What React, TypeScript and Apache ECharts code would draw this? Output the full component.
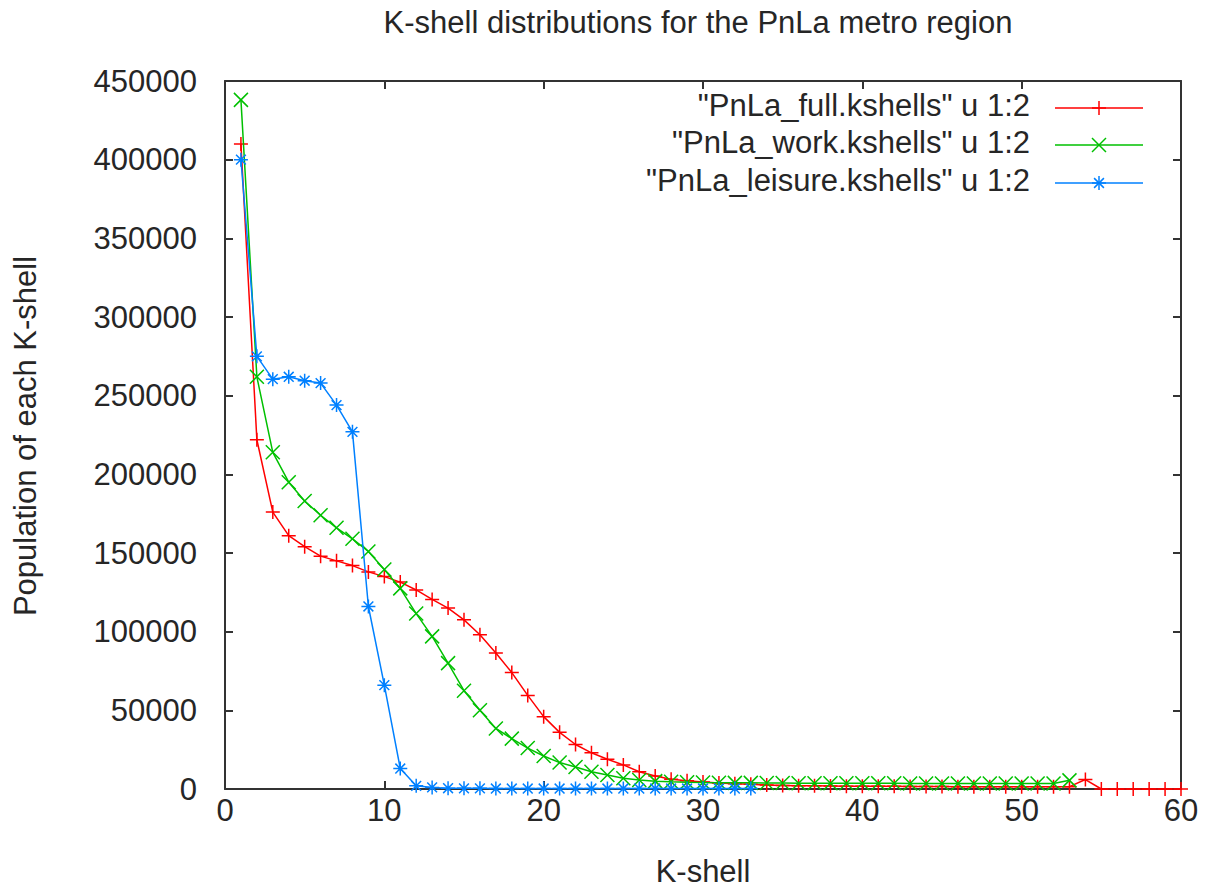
import React, { useEffect, useRef } from "react";
import * as echarts from "echarts";

const titleText = "K-shell distributions for the PnLa metro region";
const xName = "K-shell";
const yName = "Population of each K-shell";
const seriesNames = [
  '"PnLa_full.kshells" u 1:2',
  '"PnLa_work.kshells" u 1:2',
  '"PnLa_leisure.kshells" u 1:2',
];
const seriesColors = ["#ff0000", "#00c000", "#0080ff"];

// K-shell index starts at 1
const fullCounts = [
  410000, 222000, 176000, 161000, 154000, 148000, 145000, 142000, 138000, 135000,
  131500, 126500, 120500, 115000, 107500, 98000, 86500, 74000, 59500, 46000,
  36000, 28300, 23000, 18900, 15300, 11000, 8300, 6200, 5200, 4400,
  3800, 3300, 3000, 2500, 2300, 2100, 2000, 1900, 1800, 1800,
  1700, 1700, 1600, 1600, 1600, 1500, 1500, 1500, 1500, 1400,
  1400, 1400, 1500, 6000, 0, 0, 0, 0, 0, 0,
];
const workCounts = [
  438000, 262000, 214000, 195000, 183000, 174000, 166000, 159000, 151000, 139500,
  127500, 111500, 97000, 80000, 62500, 50000, 38500, 32000, 26000, 21000,
  16800, 14000, 11000, 8900, 6800, 5700, 5000, 4600, 4300, 4100,
  4000, 3900, 3900, 3800, 3800, 3700, 3700, 3700, 3600, 3600,
  3600, 3600, 3500, 3500, 3500, 3500, 3500, 3500, 3500, 3500,
  3500, 3500, 5500,
];
const leisureCounts = [
  400000, 275000, 260500, 262000, 259500, 258000, 244000, 227000, 116000, 66000,
  13000, 2000, 1000, 500, 400, 400, 300, 300, 300, 300,
  300, 300, 300, 300, 300, 300, 300, 300, 300, 300,
  300, 300, 300,
];

const xMin = 0, xMax = 60, xStep = 10;
const yMin = 0, yMax = 450000, yStep = 50000;

const FONT_FAMILY = '"Liberation Sans", Arial, Helvetica, sans-serif';
const TEXT_COLOR = "#262626";
const AXIS_COLOR = "#333333";

const plusPath = "path://M0,5L10,5M5,0L5,10";
const crossPath = "path://M0,0L10,10M0,10L10,0";
const starPath = "path://M0,5L10,5M5,0L5,10M1.5,1.5L8.5,8.5M1.5,8.5L8.5,1.5";
const symbols = [plusPath, crossPath, starPath];

const toPairs = (arr: number[]) => arr.map((v, i) => [i + 1, v]);

export default function App() {
  const ref = useRef<HTMLDivElement>(null);
  useEffect(() => {
    if (!ref.current) return;
    const chart = echarts.init(ref.current, null, { renderer: "svg" });
    const lineStyle = { color: AXIS_COLOR, width: 2 };
    const axisLabel = {
      fontSize: 31,
      fontFamily: FONT_FAMILY,
      color: TEXT_COLOR,
      formatter: (v: number) => String(v),
    };
    const datasets = [fullCounts, workCounts, leisureCounts];

    const left = 225, right = 1181, top = 81, bottom = 789;

    const legendGraphics: any[] = [];
    const legendY = [106, 143, 181];
    const sx0 = 1055, sx1 = 1143, mx = 1099, h = 7;
    seriesNames.forEach((name, i) => {
      const y = legendY[i];
      const c = seriesColors[i];
      legendGraphics.push({
        type: "text",
        x: 1030,
        y: y - 1,
        style: {
          text: name,
          font: `31px ${FONT_FAMILY}`,
          fill: TEXT_COLOR,
          align: "right",
          verticalAlign: "middle",
        },
      });
      legendGraphics.push({
        type: "line",
        shape: { x1: sx0, y1: y + 2, x2: sx1, y2: y + 2 },
        style: { stroke: c, lineWidth: 1.5 },
      });
      const segs: number[][] = [];
      if (i === 0 || i === 2) {
        segs.push([mx - h, y + 2, mx + h, y + 2], [mx, y + 2 - h, mx, y + 2 + h]);
      }
      if (i === 1) {
        segs.push([mx - h, y + 2 - h, mx + h, y + 2 + h], [mx - h, y + 2 + h, mx + h, y + 2 - h]);
      }
      if (i === 2) {
        const d = h * 0.7;
        segs.push([mx - d, y + 2 - d, mx + d, y + 2 + d], [mx - d, y + 2 + d, mx + d, y + 2 - d]);
      }
      segs.forEach((s) =>
        legendGraphics.push({
          type: "line",
          shape: { x1: s[0], y1: s[1], x2: s[2], y2: s[3] },
          style: { stroke: c, lineWidth: 1.5 },
        })
      );
    });

    chart.setOption({
      animation: false,
      backgroundColor: "#ffffff",
      grid: {
        left: left,
        right: 1205 - right,
        top: top,
        bottom: 890 - bottom,
        containLabel: false,
      },
      xAxis: [
        {
          type: "value",
          min: xMin,
          max: xMax,
          interval: xStep,
          position: "bottom",
          axisLine: { show: true, onZero: false, lineStyle },
          axisTick: { show: true, inside: true, length: 8, lineStyle },
          axisLabel: { ...axisLabel, margin: 6 },
          splitLine: { show: false },
        },
        {
          type: "value",
          min: xMin,
          max: xMax,
          interval: xStep,
          position: "top",
          axisLine: { show: true, onZero: false, lineStyle },
          axisTick: { show: true, inside: true, length: 8, lineStyle },
          axisLabel: { show: false },
          splitLine: { show: false },
        },
      ],
      yAxis: [
        {
          type: "value",
          min: yMin,
          max: yMax,
          interval: yStep,
          position: "left",
          axisLine: { show: true, onZero: false, lineStyle },
          axisTick: { show: true, inside: true, length: 8, lineStyle },
          axisLabel: { ...axisLabel, margin: 28 },
          splitLine: { show: false },
        },
        {
          type: "value",
          min: yMin,
          max: yMax,
          interval: yStep,
          position: "right",
          axisLine: { show: true, onZero: false, lineStyle },
          axisTick: { show: true, inside: true, length: 8, lineStyle },
          axisLabel: { show: false },
          splitLine: { show: false },
        },
      ],
      series: datasets.map((arr, i) => ({
        name: seriesNames[i],
        type: "line",
        xAxisIndex: 0,
        yAxisIndex: 0,
        data: toPairs(arr),
        symbol: symbols[i],
        symbolSize: 14,
        showSymbol: true,
        showAllSymbol: true,
        clip: false,
        z: 2 + i,
        lineStyle: { color: seriesColors[i], width: 1.5 },
        itemStyle: {
          color: "rgba(0,0,0,0)",
          borderColor: seriesColors[i],
          borderWidth: 1.5,
        },
        emphasis: { disabled: true },
      })),
      graphic: [
        {
          type: "text",
          x: 698,
          y: 22,
          style: {
            text: titleText,
            font: `31px ${FONT_FAMILY}`,
            fill: TEXT_COLOR,
            align: "center",
            verticalAlign: "middle",
          },
        },
        {
          type: "text",
          x: 703,
          y: 871,
          style: {
            text: xName,
            font: `31px ${FONT_FAMILY}`,
            fill: TEXT_COLOR,
            align: "center",
            verticalAlign: "middle",
          },
        },
        {
          type: "text",
          x: 25,
          y: 436,
          rotation: Math.PI / 2,
          style: {
            text: yName,
            font: `31px ${FONT_FAMILY}`,
            fill: TEXT_COLOR,
            align: "center",
            verticalAlign: "middle",
          },
        },
        ...legendGraphics,
      ],
    });
    return () => chart.dispose();
  }, []);
  return (
    <div
      ref={ref}
      style={{ position: "fixed", left: 0, top: 0, width: 1205, height: 890 }}
    />
  );
}
